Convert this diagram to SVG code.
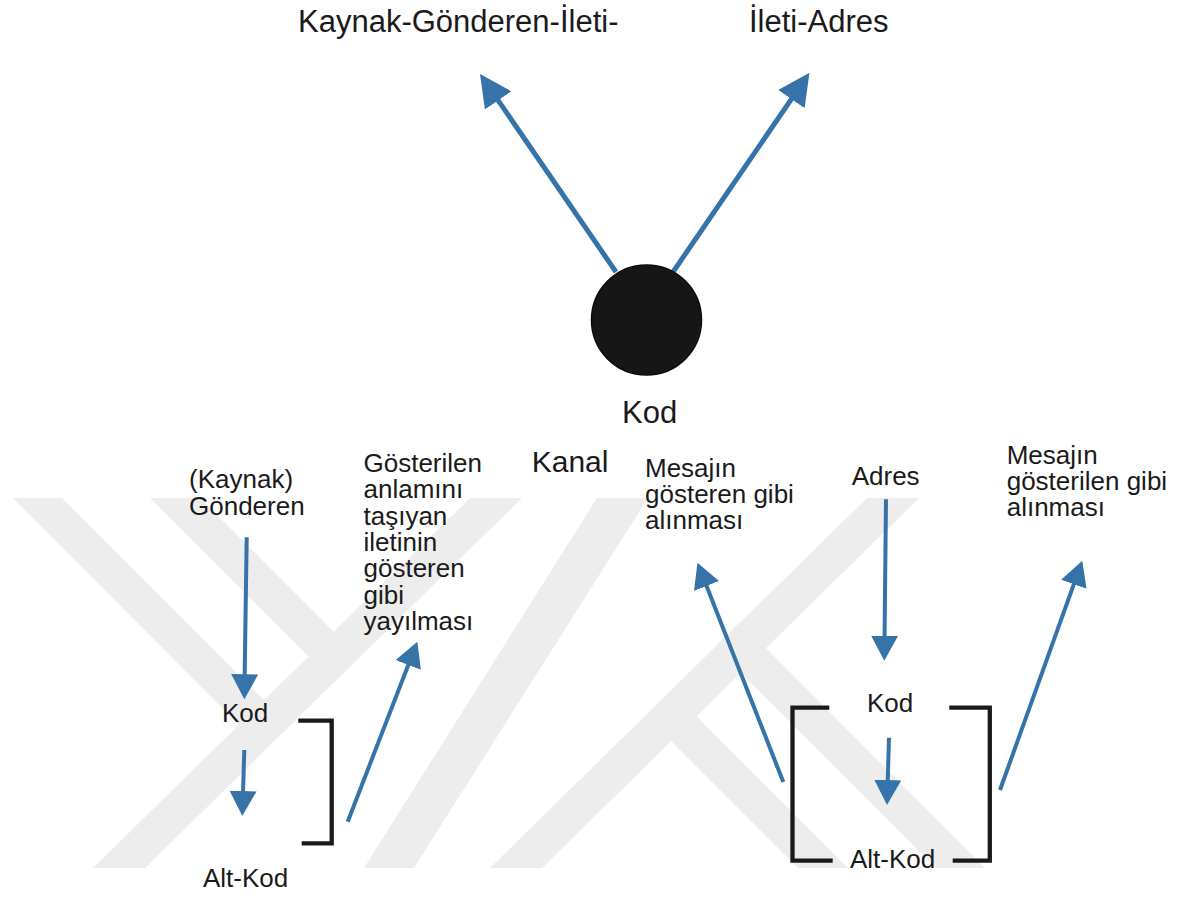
<svg xmlns="http://www.w3.org/2000/svg" width="1191" height="897" viewBox="0 0 1191 897">
  <style>
    .t { font-family: "Liberation Sans", Arial, sans-serif; fill: #1a1a1a; }
    .big { font-size: 31px; }
    .mid { font-size: 30px; }
    .sm { font-size: 26px; }
    .wm { fill: #ededed; }
    .arr { stroke: #3573a9; fill: none; stroke-linecap: butt; }
    .a5 { stroke-width: 5; marker-end: url(#headBig); }
    .a4 { stroke-width: 4; marker-end: url(#headSmall); }
    .br { stroke: #1a1a1a; stroke-width: 4.3; fill: none; stroke-linejoin: miter; }
  </style>
  <defs>
    <marker id="headBig" markerUnits="userSpaceOnUse" markerWidth="32" markerHeight="32" refX="20" refY="16" orient="auto">
      <path d="M0,0 L32,16 L0,32 Z" fill="#3573a9"/>
    </marker>
    <marker id="headSmall" markerUnits="userSpaceOnUse" markerWidth="25" markerHeight="27" refX="15" refY="13.5" orient="auto">
      <path d="M0,0 L25,13.5 L0,27 Z" fill="#3573a9"/>
    </marker>
  </defs>
  <rect x="0" y="0" width="1191" height="897" fill="#ffffff"/>

  <g id="watermark">
    <polygon class="wm" points="93,868 145,868 522,498 470,498"/>
    <polygon class="wm" points="13,498 62,498 277,713 252,738"/>
    <polygon class="wm" points="150,498 200,498 350,648 325,673"/>
    <polygon class="wm" points="364,868 414,868 648,498 597,498"/>
    <polygon class="wm" points="490,868 542,868 919,498 867,498"/>
    <polygon class="wm" points="985,868 936,868 715,647 740,622"/>
    <polygon class="wm" points="848,868 798,868 650,720 675,695"/>
  </g>

  <g id="connectors">
    <line class="arr a5" x1="616" y1="272" x2="486.8" y2="83.9"/>
    <line class="arr a5" x1="673" y1="272" x2="802.7" y2="82.6"/>
    <line class="arr a4" x1="246.7" y1="537.3" x2="244.45" y2="689.3"/>
    <line class="arr a4" x1="244.3" y1="750" x2="242.6" y2="806"/>
    <line class="arr a4" x1="347.7" y1="821.7" x2="413.7" y2="651"/>
    <line class="arr a4" x1="783.3" y1="782" x2="701.1" y2="572"/>
    <line class="arr a4" x1="886" y1="499.3" x2="884.4" y2="650.7"/>
    <line class="arr a4" x1="889" y1="737.7" x2="887.3" y2="795"/>
    <line class="arr a4" x1="1000" y1="790" x2="1078.9" y2="570.1"/>
  </g>

  <g id="node-kod-center">
    <circle cx="646.5" cy="320" r="55" fill="#151615" stroke="#0b0b0b" stroke-width="1.5"/>
    <text class="t big" x="622" y="423">Kod</text>
  </g>
  <g id="node-kaynak-gonderen-ileti">
    <text class="t big" x="298" y="32">Kaynak-Gönderen-İleti-</text>
  </g>
  <g id="node-ileti-adres">
    <text class="t big" x="749" y="32">İleti-Adres</text>
  </g>

  <g id="node-kaynak">
    <text class="t sm" x="189" y="488">(Kaynak)</text>
    <text class="t sm" x="189" y="515">Gönderen</text>
  </g>
  <g id="node-kod-left">
    <text class="t sm" x="222" y="722">Kod</text>
  </g>
  <g id="node-altkod-left">
    <text class="t sm" x="203" y="887">Alt-Kod</text>
  </g>
  <g id="node-bracket-left">
    <polyline class="br" points="298.3,720.7 331.7,720.7 331.7,843.3 301.7,843.3"/>
  </g>
  <g id="node-gosterilen">
    <text class="t sm" x="363.5" y="472">Gösterilen</text>
    <text class="t sm" x="363.5" y="498.3">anlamını</text>
    <text class="t sm" x="363.5" y="524.6">taşıyan</text>
    <text class="t sm" x="363.5" y="550.9">iletinin</text>
    <text class="t sm" x="363.5" y="577.2">gösteren</text>
    <text class="t sm" x="363.5" y="603.5">gibi</text>
    <text class="t sm" x="363.5" y="629.8">yayılması</text>
  </g>
  <g id="node-kanal">
    <text class="t mid" x="531.7" y="472">Kanal</text>
  </g>
  <g id="node-mesajin-gosteren">
    <text class="t sm" x="645" y="476.7">Mesajın</text>
    <text class="t sm" x="645" y="503">gösteren gibi</text>
    <text class="t sm" x="645" y="529.3">alınması</text>
  </g>
  <g id="node-adres">
    <text class="t sm" x="851.7" y="485">Adres</text>
  </g>
  <g id="node-kod-right">
    <text class="t sm" x="867" y="712">Kod</text>
  </g>
  <g id="node-altkod-right">
    <text class="t sm" x="850" y="868">Alt-Kod</text>
  </g>
  <g id="node-bracket-right">
    <polyline class="br" points="829.3,707.7 792.5,707.7 792.5,860.7 832.7,860.7"/>
    <polyline class="br" points="949.3,707.7 989.8,707.7 989.8,860.7 952.7,860.7"/>
  </g>
  <g id="node-mesajin-gosterilen">
    <text class="t sm" x="1006.7" y="463.7">Mesajın</text>
    <text class="t sm" x="1006.7" y="490">gösterilen gibi</text>
    <text class="t sm" x="1006.7" y="516.3">alınması</text>
  </g>
</svg>
